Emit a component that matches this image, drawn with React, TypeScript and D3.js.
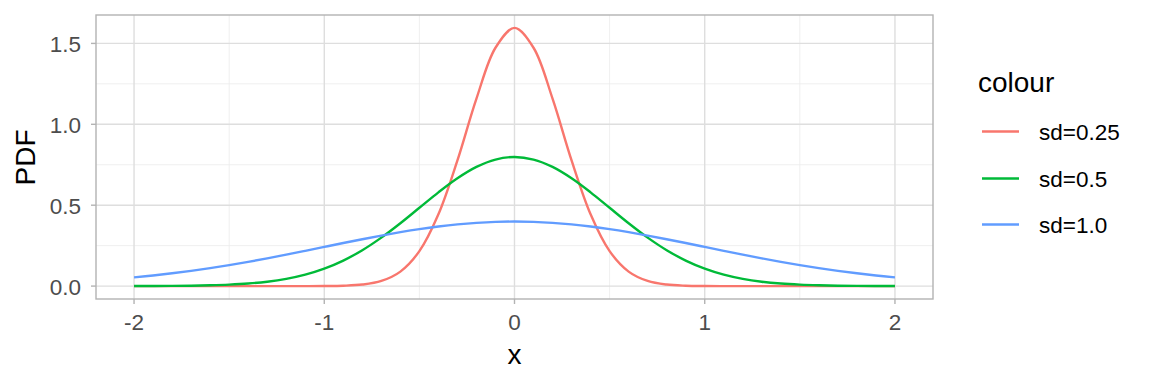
import React from "react";
import * as d3 from "d3";

const xs = [-2.0,-1.9,-1.8,-1.7,-1.6,-1.5,-1.4,-1.3,-1.2,-1.1,-1.0,-0.9,-0.8,-0.7,-0.6,-0.5,-0.4,-0.3,-0.2,-0.1,0.0,0.1,0.2,0.3,0.4,0.5,0.6,0.7,0.8,0.9,1.0,1.1,1.2,1.3,1.4,1.5,1.6,1.7,1.8,1.9,2.0];

const sd025 = [0,0,0,0,0,0,0,0,0,0,0.0005,0.0024,0.0095,0.0317,0.0896,0.2160,0.4436,0.7768,1.1588,1.4731,1.5958,1.4731,1.1588,0.7768,0.4436,0.2160,0.0896,0.0317,0.0095,0.0024,0.0005,0,0,0,0,0,0,0,0,0,0];

const sd05 = [0.0003,0.0006,0.0012,0.0025,0.0048,0.0089,0.0158,0.0272,0.0448,0.0709,0.1080,0.1579,0.2218,0.2995,0.3884,0.4839,0.5794,0.6664,0.7366,0.7821,0.7979,0.7821,0.7366,0.6664,0.5794,0.4839,0.3884,0.2995,0.2218,0.1579,0.1080,0.0709,0.0448,0.0272,0.0158,0.0089,0.0048,0.0025,0.0012,0.0006,0.0003];

const sd10 = [0.0540,0.0656,0.0790,0.0940,0.1109,0.1295,0.1497,0.1714,0.1942,0.2179,0.2420,0.2661,0.2897,0.3123,0.3332,0.3521,0.3683,0.3814,0.3910,0.3970,0.3989,0.3970,0.3910,0.3814,0.3683,0.3521,0.3332,0.3123,0.2897,0.2661,0.2420,0.2179,0.1942,0.1714,0.1497,0.1295,0.1109,0.0940,0.0790,0.0656,0.0540];

const seriesNames = ["sd=0.25", "sd=0.5", "sd=1.0"];
const seriesColors = ["#F8766D", "#00BA38", "#619CFF"];
const seriesValues = [sd025, sd05, sd10];

const xTicks = [-2, -1, 0, 1, 2];
const xMinor = [-1.5, -0.5, 0.5, 1.5];
const yTicks = [0, 0.5, 1.0, 1.5];
const yMinor = [0.25, 0.75, 1.25];

export default function App() {
  const W = 1152, H = 384;
  const left = 96, right = 933, top = 15, bottom = 299;
  const x = d3.scaleLinear().domain([-2.2, 2.2]).range([left, right]);
  const yMax = 1.5958;
  const y = d3.scaleLinear().domain([-0.05 * yMax, yMax * 1.05]).range([bottom, top]);
  const line = d3.line<number>().x((_, i) => x(xs[i])).y((d) => y(d)).curve(d3.curveCatmullRom);
  const font = "'Liberation Sans', Arial, Helvetica, sans-serif";
  const tickFs = 22.5;
  const titleFs = 28;
  const legendX = 982;
  const legendYs = [131.5, 178.5, 224.5];

  return (
    <div style={{ position: "absolute", left: 0, top: 0 }}>
      <svg width={W} height={H} style={{ display: "block" }} fontFamily={font}>
        <rect x={0} y={0} width={W} height={H} fill="white" />
        {xMinor.map((v) => (
          <line key={"xm" + v} x1={x(v)} x2={x(v)} y1={top} y2={bottom} stroke="#EBEBEB" strokeWidth={0.8} />
        ))}
        {yMinor.map((v) => (
          <line key={"ym" + v} x1={left} x2={right} y1={y(v)} y2={y(v)} stroke="#EBEBEB" strokeWidth={0.8} />
        ))}
        {xTicks.map((v) => (
          <line key={"xg" + v} x1={x(v)} x2={x(v)} y1={top} y2={bottom} stroke="#DEDEDE" strokeWidth={1.4} />
        ))}
        {yTicks.map((v) => (
          <line key={"yg" + v} x1={left} x2={right} y1={y(v)} y2={y(v)} stroke="#DEDEDE" strokeWidth={1.4} />
        ))}
        {seriesValues.map((vals, i) => (
          <path key={seriesNames[i]} d={line(vals) || ""} fill="none" stroke={seriesColors[i]} strokeWidth={2.4} strokeLinejoin="round" />
        ))}
        <rect x={left} y={top} width={right - left} height={bottom - top} fill="none" stroke="#B3B3B3" strokeWidth={1.4} />
        {xTicks.map((v) => (
          <g key={"xt" + v}>
            <line x1={x(v)} x2={x(v)} y1={bottom} y2={bottom + 5} stroke="#B3B3B3" strokeWidth={1.4} />
            <text x={x(v)} y={330} textAnchor="middle" fontSize={tickFs} fill="#4D4D4D">{v}</text>
          </g>
        ))}
        {yTicks.map((v) => (
          <g key={"yt" + v}>
            <line x1={left - 5} x2={left} y1={y(v)} y2={y(v)} stroke="#B3B3B3" strokeWidth={1.4} />
            <text x={81} y={y(v) + 8.5} textAnchor="end" fontSize={tickFs} fill="#4D4D4D">{v.toFixed(1)}</text>
          </g>
        ))}
        <text x={(left + right) / 2} y={364} textAnchor="middle" fontSize={titleFs} fill="black">x</text>
        <text transform={`translate(${35},${157.5}) rotate(-90)`} textAnchor="middle" fontSize={titleFs} fill="black">PDF</text>
        <text x={978} y={92} fontSize={titleFs} fill="black">colour</text>
        {seriesNames.map((n, i) => (
          <g key={"lg" + n}>
            <line x1={legendX} x2={legendX + 37} y1={legendYs[i]} y2={legendYs[i]} stroke={seriesColors[i]} strokeWidth={2.4} />
            <text x={1039} y={legendYs[i] + 8.5} fontSize={tickFs} fill="black">{n}</text>
          </g>
        ))}
      </svg>
    </div>
  );
}
